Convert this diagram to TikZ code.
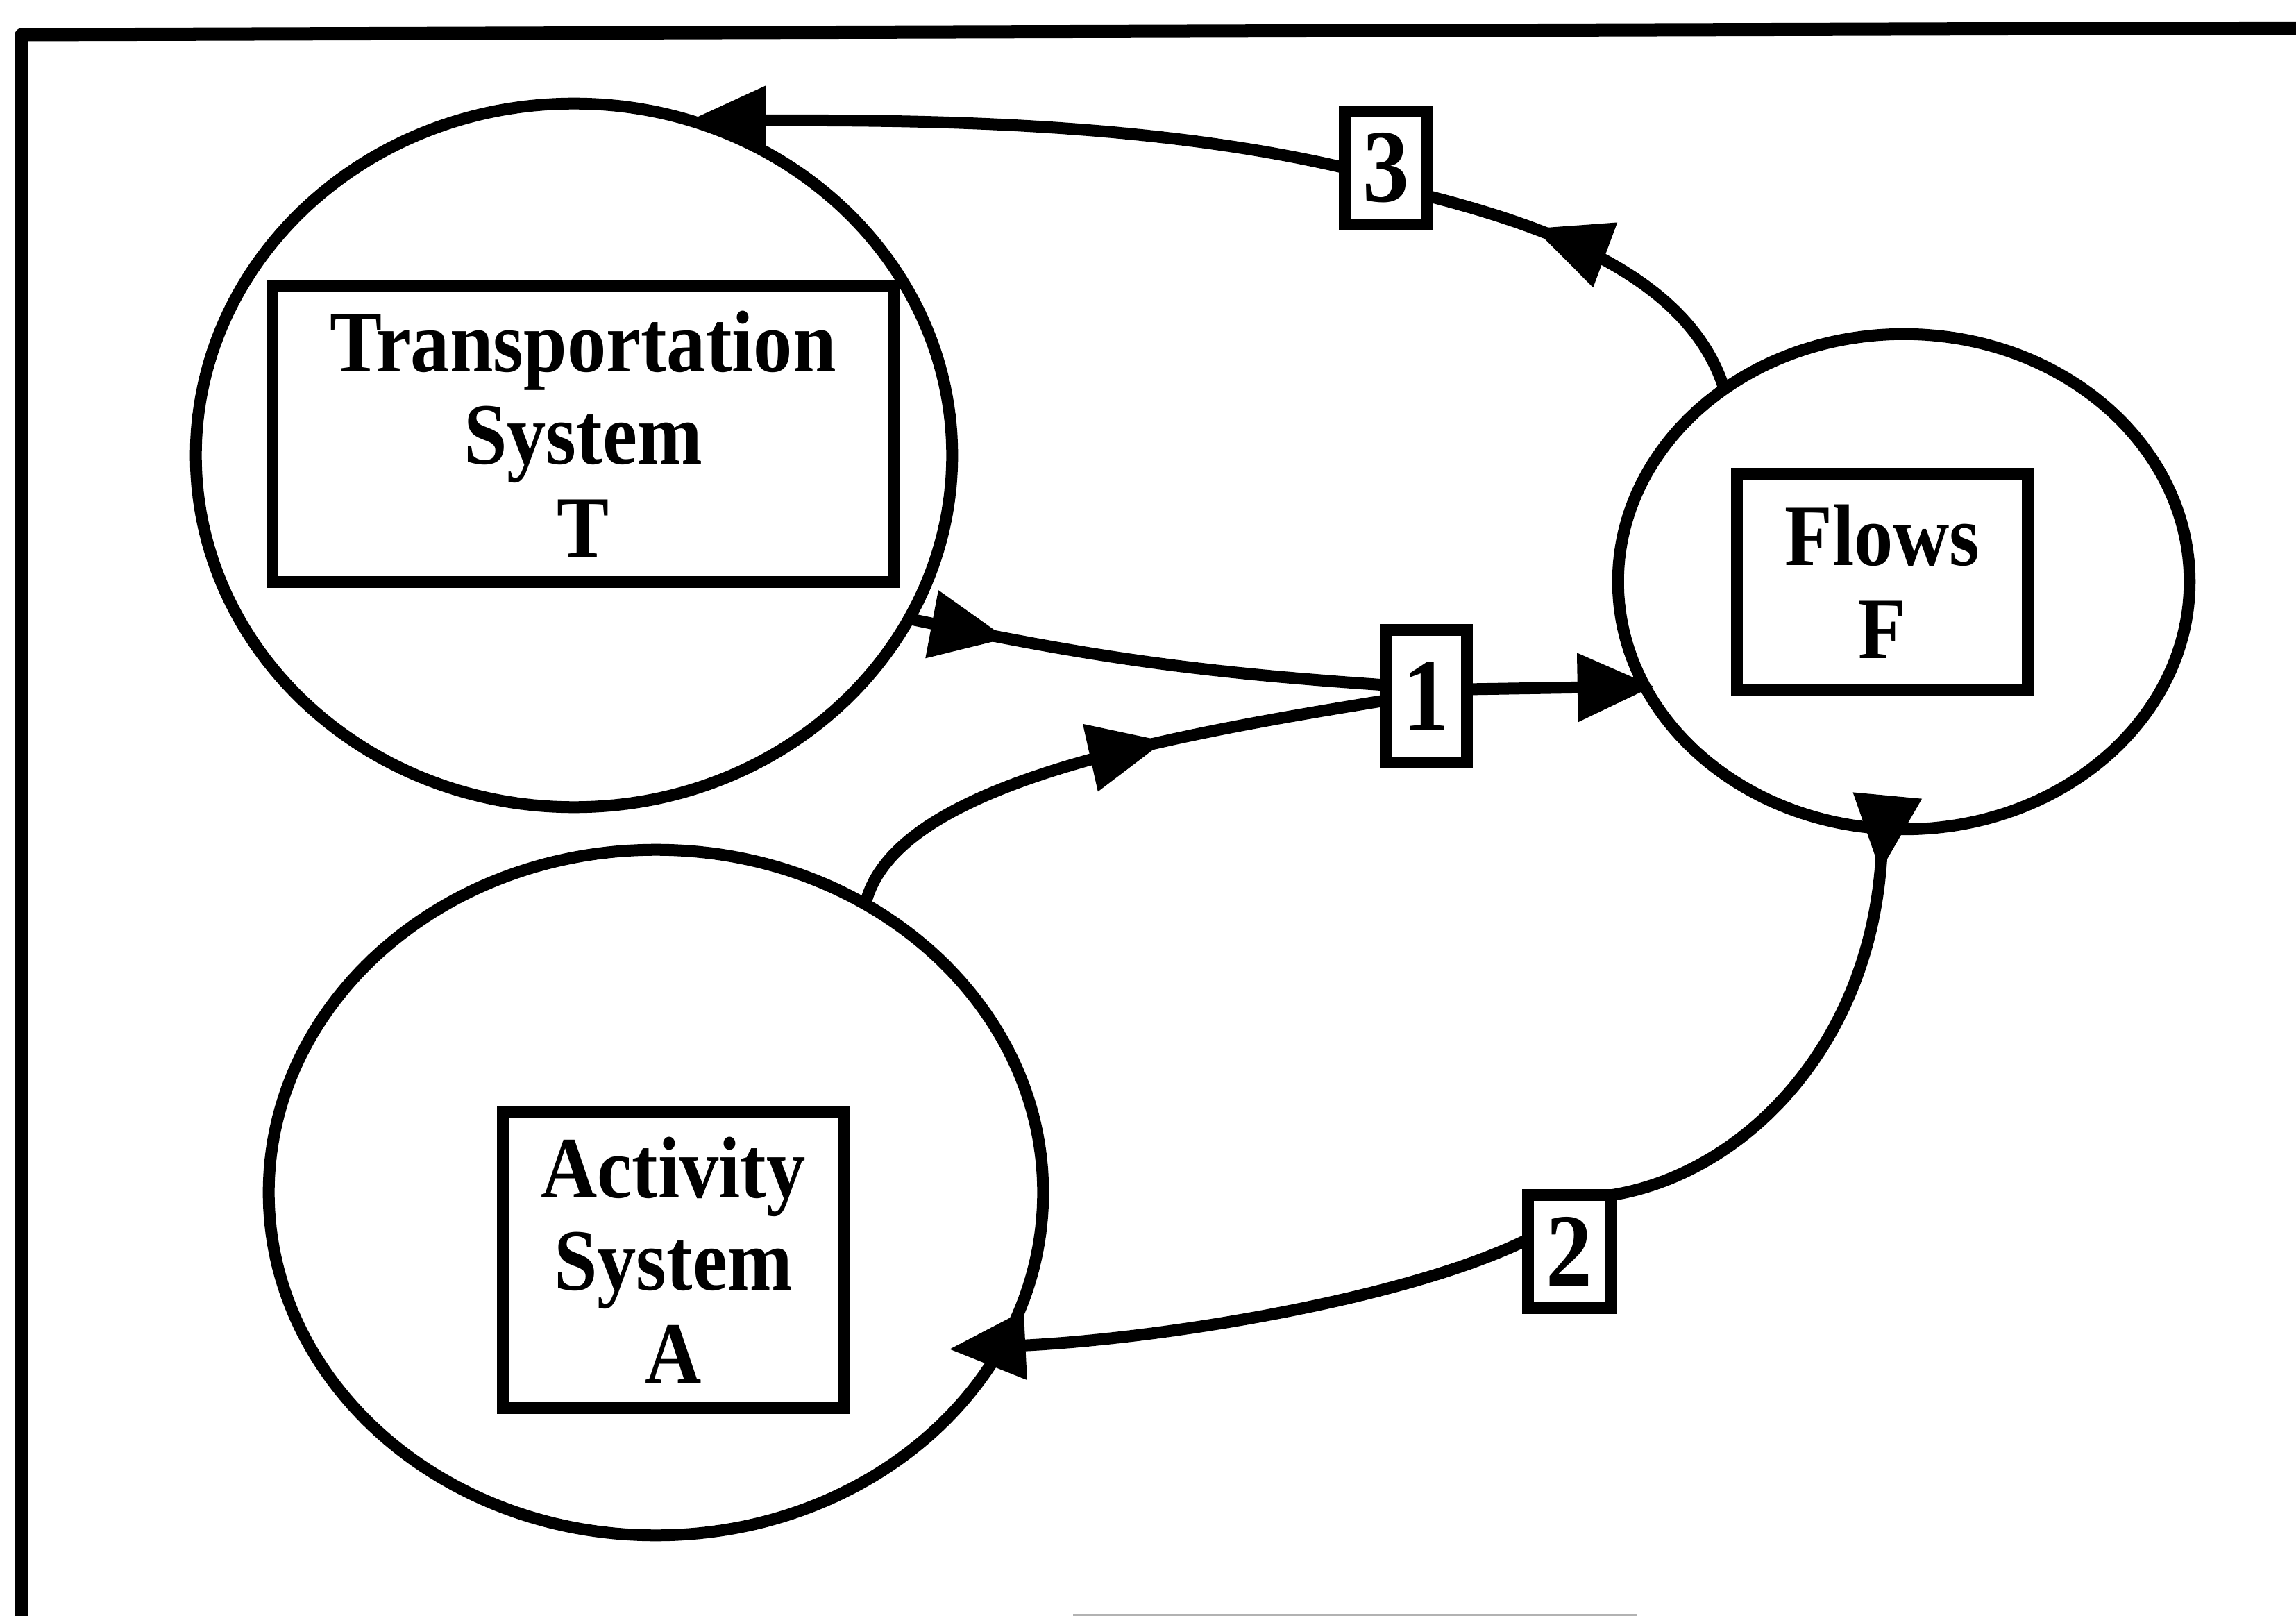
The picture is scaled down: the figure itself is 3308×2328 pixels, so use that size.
\documentclass[tikz,border=0pt]{standalone}
\usepackage{graphicx}
\usepackage{fontspec}
\setmainfont{Liberation Serif}
\usetikzlibrary{arrows.meta,decorations.markings,shapes.geometric}
% one line of label text, set slightly taller than the font
\newcommand{\tallline}[1]{\scalebox{1}[1.12]{#1}}
\tikzset{
  system/.style={draw, ellipse, line width=0.17cm, inner sep=0pt, outer sep=0pt},
  namebox/.style={draw, rectangle, line width=0.17cm, inner sep=0pt, outer sep=0pt,
    align=center, font=\fontsize{32}{38}\selectfont\bfseries},
  relbox/.style={draw, rectangle, line width=0.17cm, inner sep=0pt, outer sep=0pt,
    fill=white, font=\fontsize{38}{42}\selectfont\bfseries},
  link/.style={line width=0.17cm},
  endtip/.style={-{Triangle[length=1.1cm,width=0.95cm]}},
  tipat/.style={postaction={decorate},
    decoration={markings, mark=at position #1 with {\arrow{Triangle[length=1.1cm,width=0.95cm]}}}},
}
\begin{document}
\begin{tikzpicture}[x=0.01cm, y=-0.01cm]
  % page area
  \fill[white] (0,0) rectangle (3308,2328);
  \path[use as bounding box] (0,0) rectangle (3308,2328);
  \clip (0,0) rectangle (3308,2328);

  % outer frame (left and top edges)
  \draw[line width=0.19cm, line join=round] (31,2400) -- (31,50) -- (3400,40);
  \draw[gray!60, line width=0.03cm] (1546,2326) -- (2358,2326);

  % the three systems
  \node[system, minimum width=10.89cm, minimum height=10.13cm] (cT) at (827,656) {};
  \node[system, minimum width=8.23cm, minimum height=7.13cm] (cF) at (2743,838) {};
  \node[system, minimum width=11.15cm, minimum height=9.87cm] (cA) at (945,1718) {};

  \node[namebox, minimum width=8.94cm, minimum height=4.27cm] (bT) at (840,625)
    {\tallline{Transportation}\\\tallline{System}\\\tallline{T}};
  \node[namebox, minimum width=4.18cm, minimum height=3.10cm] (bF) at (2712,838)
    {\tallline{Flows}\\\tallline{F}};
  \node[namebox, minimum width=4.90cm, minimum height=4.27cm] (bA) at (970,1815)
    {\tallline{Activity}\\\tallline{System}\\\tallline{A}};

  % relations
  \node[relbox, minimum width=1.17cm, minimum height=1.90cm] (r1) at (2055,1003) {\tallline{1}};
  \node[relbox, minimum width=1.18cm, minimum height=1.62cm] (r2) at (2261,1803) {\tallline{2}};
  \node[relbox, minimum width=1.18cm, minimum height=1.63cm] (r3) at (1997,242) {\tallline{3}};

  % relation 1: T and A determine F
  \draw[link, tipat=1.44cm] (cT.-26) to[bend right=4] ([yshift=0.16cm]r1.west);
  \draw[link, tipat=5.12cm] (cA.54) .. controls +(40,-170) and +(-340,55) .. ([yshift=-0.06cm]r1.west);
  \draw[link, endtip, shorten >=-0.13cm] ([yshift=0.1cm]r1.east) -- (cF.-158);

  % relation 2: F changes A
  \draw[link, tipat=0.62cm] (cF.-95) .. controls +(0,298) and +(199,-31) .. (r2.north east);
  \draw[link, endtip, shorten >=-0.76cm] ([yshift=0.18cm]r2.west) .. controls +(-171,85) and +(240,-12) .. (cA.-24);

  % relation 3: F changes T
  \draw[link, tipat=3.72cm] (cF.133) .. controls +(-50,-160) and +(180,46) .. ([yshift=-0.4cm]r3.east);
  \draw[link, endtip] (r3.west) .. controls +(-300,-70) and +(300,0) .. (cT.71);
\end{tikzpicture}
\end{document}
